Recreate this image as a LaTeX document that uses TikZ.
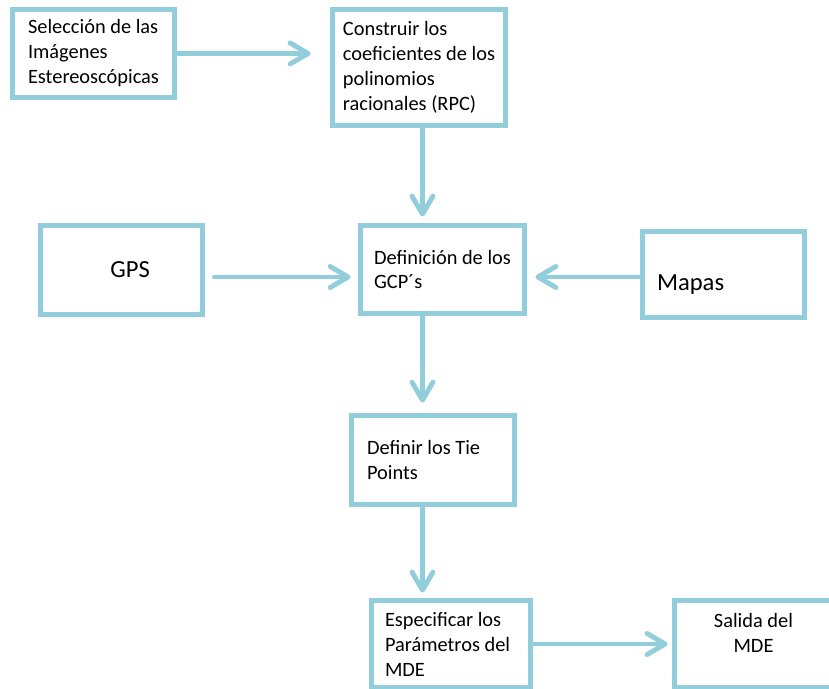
\documentclass[tikz,border=0pt]{standalone}
\usepackage{fontspec}
\setmainfont{Carlito}
\usetikzlibrary{arrows.meta}
\definecolor{celeste}{RGB}{146,205,220}

\begin{document}
\begin{tikzpicture}[x=0.02cm, y=-0.02cm]
\tikzset{caja/.style={draw=celeste, line width=2.8pt, inner sep=0pt, align=flush left, font=\fontsize{11.6pt}{14.2pt}\selectfont}}
\tikzset{grande/.style={font=\fontsize{14pt}{16.8pt}\selectfont}}
\tikzset{flecha/.style={draw=celeste, line width=2.8pt, line cap=round, -{Straight Barb[round, length=0.36cm, width=0.42cm]}}}
\useasboundingbox (0,0) rectangle (829,689);
\clip (0,0) rectangle (829,689);
\node[caja, minimum width=3.24cm, minimum height=1.76cm] (C1) at (93.5,53.5) {Selección de las\\Imágenes\\Estereoscópicas};
\node[caja, minimum width=3.46cm, minimum height=2.32cm] (C2) at (419,67.5) {Construir los\\coeficientes de los\\polinomios\\racionales (RPC)};
\node[caja, grande, minimum width=3.24cm, minimum height=1.78cm, text width=1.14cm, align=flush right] (C3) at (121.5,270) {GPS};
\node[caja, minimum width=3.28cm, minimum height=1.76cm] (C4) at (442.5,269.5) {Definición de los\\GCP´s};
\node[caja, grande, minimum width=3.24cm, minimum height=1.72cm, text width=2.66cm, text height=0.7cm] (C5) at (723.5,274.5) {Mapas};
\node[caja, minimum width=3.26cm, minimum height=1.78cm, text width=2.64cm] (C6) at (433,460) {Definir los Tie\\Points};
\node[caja, minimum width=3.18cm, minimum height=1.74cm, text width=2.64cm] (C7) at (451,644) {Especificar los\\Parámetros del\\MDE};
\node[caja, minimum width=3.16cm, minimum height=1.74cm, text width=2.64cm, align=flush center, text depth=0.95cm] (C8) at (753.5,644) {Salida del\\MDE};
\draw[flecha, shorten >=0.39cm] (C1.east) -- (C1.east -| C2.west);
\draw[flecha, shorten >=0.13cm] ([xshift=0.07cm]C2.south) -- ([xshift=0.07cm]C2.south |- C4.north);
\draw[flecha, shorten <=0.19cm, shorten >=0.15cm] ([yshift=-0.14cm]C3.east) -- ([yshift=-0.14cm]C3.east -| C4.west);
\draw[flecha, shorten >=0.17cm] ([yshift=-0.05cm]C5.west) -- ([yshift=-0.05cm]C5.west -| C4.east);
\draw[flecha, shorten >=0.21cm] ([xshift=-0.4cm]C4.south) -- ([xshift=-0.4cm]C4.south |- C6.north);
\draw[flecha, shorten >=0.11cm] ([xshift=-0.21cm]C6.south) -- ([xshift=-0.21cm]C6.south |- C7.north);
\draw[flecha, shorten >=0.09cm] (C7.east) -- (C7.east -| C8.west);
\end{tikzpicture}
\end{document}
